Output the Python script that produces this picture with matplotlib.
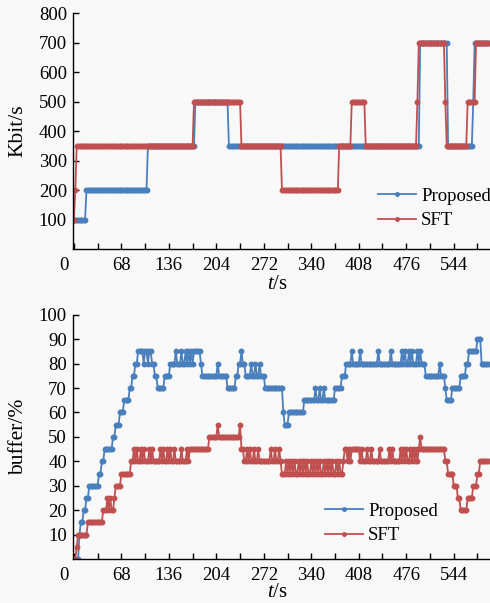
import numpy as np
import matplotlib
matplotlib.use("Agg")
import matplotlib.pyplot as plt
import matplotlib.transforms as mtransforms

plt.rcParams["font.family"] = ["Liberation Serif", "DejaVu Serif"]
plt.rcParams["mathtext.fontset"] = "custom"
plt.rcParams["mathtext.it"] = "Liberation Serif:italic"
plt.rcParams["mathtext.rm"] = "Liberation Serif"

# --- Data: step series as (start time, level) + single-sample spikes ---
t = np.arange(0, 596, 2)

rate_prop_t = [0, 18, 106, 174, 222, 496, 536, 572, 574]
rate_prop_v = [100, 200, 350, 500, 350, 700, 350, 500, 700]

rate_sft_t = [0, 2, 4, 172, 240, 298, 380, 398, 418, 492, 494, 532, 534, 564, 576]
rate_sft_v = [100, 200, 350, 500, 350, 200, 350, 500, 350, 500, 700, 500, 350, 500, 700]

buf_prop_t = [0, 8, 10, 14, 18, 22, 36, 40, 44, 56, 60, 66, 72, 80, 84, 88, 92,
              112, 116, 120, 130, 138, 172, 182, 184, 220, 232, 236, 246, 274,
              300, 302, 308, 330, 374, 384, 390, 504, 532, 534, 542, 554, 562,
              566, 578, 584]
buf_prop_v = [0, 10, 15, 20, 25, 30, 35, 40, 45, 50, 55, 60, 65, 70, 75, 80, 85,
              80, 75, 70, 75, 80, 85, 80, 75, 70, 75, 80, 75, 70,
              60, 55, 60, 65, 70, 75, 80, 75, 70, 65, 70, 75, 80,
              85, 90, 80]
buf_prop_spikes = [(100, 80), (106, 80), (146, 85), (154, 85), (160, 85), (164, 85),
                   (168, 85), (206, 80), (240, 85), (254, 80), (260, 80), (266, 80),
                   (346, 70), (352, 70), (358, 70), (398, 85), (410, 85), (436, 85),
                   (454, 85), (470, 85), (474, 85), (480, 85), (484, 85), (492, 85),
                   (496, 85), (524, 80)]

buf_sft_t = [0, 4, 6, 20, 42, 58, 60, 68, 82, 168, 194, 240, 244, 298, 386, 388,
             414, 494, 532, 536, 544, 550, 554, 564, 572, 578, 582]
buf_sft_v = [0, 5, 10, 15, 20, 25, 30, 35, 40, 45, 50, 45, 40, 35, 40, 45,
             40, 45, 40, 35, 30, 25, 20, 25, 30, 35, 40]
buf_sft_spikes = [(48, 25), (52, 25), (86, 45), (90, 45), (96, 45), (100, 45),
                  (108, 45), (112, 45), (124, 45), (128, 45), (134, 45), (138, 45),
                  (144, 45), (154, 45), (162, 45), (166, 45), (206, 55), (238, 55),
                  (248, 45), (252, 45), (258, 45), (264, 45), (282, 45), (288, 45),
                  (294, 45), (304, 40), (308, 40), (312, 40), (316, 40), (322, 40),
                  (326, 40), (330, 40), (334, 40), (340, 40), (344, 40), (348, 40),
                  (352, 40), (358, 40), (362, 40), (366, 40), (370, 40), (376, 40),
                  (380, 40), (392, 40), (396, 40), (410, 40), (420, 45), (426, 45),
                  (438, 45), (452, 45), (456, 45), (468, 45), (472, 45), (476, 45),
                  (482, 45), (486, 45), (490, 45), (496, 50)]

xticks_major = [0, 68, 136, 204, 272, 340, 408, 476, 544]
xticks_minor = [34, 102, 170, 238, 306, 374, 442, 510, 578]


def build(bp_t, bp_v, spikes=()):
    y = np.asarray(bp_v, dtype=float)[np.searchsorted(bp_t, t, side="right") - 1]
    for ts, v in spikes:
        y[t == ts] = v
    return y


# --- Style ---
bg = "#f8f8f8"
prop_style = {"color": "#4a7fbd", "marker": "o", "ms": 3.2, "lw": 1.3}
sft_style = {"color": "#c0504f", "marker": "o", "ms": 3.2, "lw": 1.3}

fig = plt.figure(figsize=(4.9, 6.03), dpi=100, facecolor=bg)
ax1 = fig.add_axes([0.148, 0.587, 0.852, 0.391], facecolor=bg)
ax2 = fig.add_axes([0.148, 0.073, 0.852, 0.405], facecolor=bg)

ax1.plot(t, build(rate_prop_t, rate_prop_v), label="Proposed", **prop_style)
ax1.plot(t, build(rate_sft_t, rate_sft_v), label="SFT", **sft_style)
ax2.plot(t, build(buf_prop_t, buf_prop_v, buf_prop_spikes), label="Proposed", **prop_style)
ax2.plot(t, build(buf_sft_t, buf_sft_v, buf_sft_spikes), label="SFT", **sft_style)

ax1.set_ylim(0, 800)
ax1.set_yticks(range(100, 801, 100))
ax1.set_ylabel("Kbit/s", fontsize=15.5)
ax2.set_ylim(0, 100)
ax2.set_yticks(range(10, 101, 10))
ax2.set_ylabel("buffer/%", fontsize=15.5)

for ax, leg_xy, xl_y in ((ax1, (0.732, 0.172), -0.11), (ax2, (0.605, 0.145), -0.10)):
    ax.set_xlim(-2, 596)
    ax.set_xticks(xticks_major)
    ax.set_xticks(xticks_minor, minor=True)
    ax.set_xticklabels([str(v) for v in xticks_major])
    ax.spines["top"].set_visible(False)
    ax.spines["right"].set_visible(False)
    ax.spines["left"].set_linewidth(1.0)
    ax.spines["bottom"].set_linewidth(1.0)
    ax.tick_params(axis="both", which="both", direction="in", length=4.5,
                   width=1.0, labelsize=13.5)
    ax.tick_params(axis="x", which="major", pad=6)
    ax.tick_params(axis="y", pad=4)
    ax.set_xlabel("$t$/s", fontsize=15)
    ax.xaxis.set_label_coords(0.49, xl_y)
    ax.yaxis.set_label_coords(-0.107, 0.5)
    # the "0" origin label sits a bit to the left
    lbl0 = ax.get_xticklabels()[0]
    lbl0.set_transform(lbl0.get_transform()
                       + mtransforms.ScaledTranslation(-10 / 100, 0, fig.dpi_scale_trans))
    ax.legend(loc="center left", bbox_to_anchor=leg_xy, frameon=False, fontsize=13.5,
              handlelength=2.0, handletextpad=0.3, labelspacing=0.4,
              borderpad=0, borderaxespad=0, markerscale=0.8)

fig.savefig("out.png", dpi=100, facecolor=bg)
